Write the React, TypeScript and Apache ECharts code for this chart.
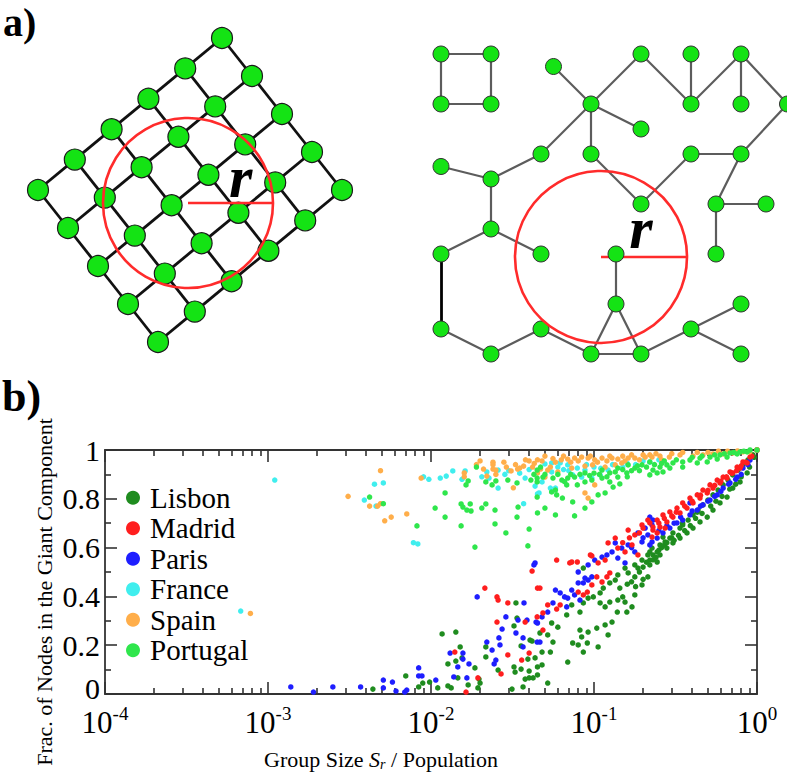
import React, { useEffect, useRef } from 'react';
import * as echarts from 'echarts';

const SERIF = 'Liberation Serif';

// ---------------- panel (b) data ----------------
const seriesNames = ['Lisbon', 'Madrid', 'Paris', 'France', 'Spain', 'Portugal'];
const seriesColors: Record<string, string> = {
  Lisbon: '#1f8c1f',
  Madrid: '#ff1e1e',
  Paris: '#1e1eff',
  France: '#40eeee',
  Spain: '#ffae4a',
  Portugal: '#2fe64c',
};

const lisbon: number[][] = [
  [0.0044, 0.02], [0.0117, 0.246], [0.0142, 0.254], [0.0332, 0.373], [0.0337, 0.311], [0.0323, 0.279],
  [0.0151, 0.193], [0.0142, 0.135], [0.0127, 0.123], [0.0155, 0.148], [0.0186, 0.107], [0.0146, 0.066],
  [0.0127, 0.033], [0.0133, 0.025], [0.011, 0.025], [0.0089, 0.045], [0.0084, 0.029], [0.007, 0.074],
  [0.0098, 0.049], [0.0169, 0.037], [0.0197, 0.061], [0.02, 0.045], [0.0194, 0.025], [0.0217, 0.193],
  [0.0217, 0.152], [0.0357, 0.197], [0.0405, 0.221], [0.0417, 0.217], [0.0393, 0.143], [0.0323, 0.111],
  [0.0328, 0.09], [0.0357, 0.102], [0.04, 0.094], [0.0378, 0.061], [0.04, 0.066], [0.0423, 0.066],
  [0.0367, 0.029], [0.045, 0.078], [0.0258, 0.098], [0.0314, 0.02], [0.045, 0.111], [0.0435, 0.148],
  [0.155, 0.516], [0.178, 0.529], [0.197, 0.549], [0.214, 0.57], [0.227, 0.598], [0.186, 0.516], [0.086, 0.516],
  [0.055, 0.291], [0.06, 0.274], [0.068, 0.324], [0.073, 0.365], [0.082, 0.336], [0.086, 0.373], [0.092, 0.393],
  [0.099, 0.398], [0.109, 0.414], [0.109, 0.373], [0.117, 0.357], [0.114, 0.434], [0.125, 0.455], [0.135, 0.467],
  [0.144, 0.434], [0.15, 0.398], [0.155, 0.377], [0.139, 0.336], [0.129, 0.295], [0.117, 0.283], [0.104, 0.27],
  [0.092, 0.254], [0.082, 0.262], [0.084, 0.234], [0.074, 0.209], [0.08, 0.201], [0.086, 0.172], [0.091, 0.209],
  [0.106, 0.193], [0.122, 0.242], [0.171, 0.357], [0.178, 0.406], [0.159, 0.336], [0.178, 0.48], [0.197, 0.447],
  [0.214, 0.48], [0.162, 0.496], [0.14, 0.488], [0.048, 0.172], [0.054, 0.172], [0.069, 0.131], [0.048, 0.119],
  [0.052, 0.045], [0.056, 0.213], [0.052, 0.242], [0.0466, 0.25], [0.125, 0.377], [0.14, 0.385],
  [0.22, 0.549], [0.23, 0.57], [0.244, 0.582], [0.22, 0.582], [0.254, 0.611], [0.273, 0.623], [0.292, 0.639],
  [0.305, 0.66], [0.337, 0.68], [0.35, 0.693], [0.378, 0.713], [0.405, 0.734], [0.435, 0.754], [0.466, 0.775],
  [0.5, 0.795], [0.537, 0.816], [0.577, 0.836], [0.62, 0.857], [0.664, 0.877], [0.71, 0.898], [0.765, 0.918],
  [0.82, 0.939], [0.88, 0.959], [0.945, 0.98], [0.254, 0.57], [0.28, 0.598], [0.305, 0.619], [0.337, 0.639],
  [0.372, 0.66], [0.405, 0.68], [0.447, 0.705], [0.495, 0.725], [0.537, 0.754], [0.593, 0.783], [0.655, 0.807],
  [0.71, 0.844], [0.787, 0.869], [0.87, 0.906], [0.265, 0.643], [0.244, 0.541], [0.22, 0.529],
  [0.2, 0.52], [0.21, 0.54], [0.23, 0.55], [0.25, 0.59], [0.26, 0.6], [0.27, 0.61], [0.19, 0.5], [0.24, 0.56],
  [0.28, 0.62], [0.3, 0.64], [0.17, 0.46], [0.18, 0.44], [0.16, 0.45], [0.2, 0.47],
  [0.31, 0.63], [0.33, 0.65], [0.36, 0.67], [0.39, 0.69], [0.42, 0.72], [0.46, 0.74], [0.52, 0.77], [0.56, 0.79],
  [0.61, 0.81], [0.68, 0.84], [0.74, 0.86], [0.8, 0.89], [0.9, 0.93], [0.96, 0.97], [0.35, 0.7], [0.43, 0.745],
  [1, 1],
];

const madrid: number[][] = [
  [0.0417, 0.504], [0.0214, 0.434], [0.0254, 0.398], [0.0258, 0.385], [0.0296, 0.373], [0.0254, 0.295],
  [0.0378, 0.295], [0.04, 0.168], [0.0296, 0.16], [0.036, 0.139], [0.0269, 0.082], [0.014, 0.172],
  [0.0194, 0.066], [0.0164, 0.008], [0.045, 0.434], [0.0448, 0.316],
  [0.059, 0.549], [0.073, 0.541], [0.079, 0.541], [0.097, 0.566], [0.122, 0.619], [0.135, 0.639], [0.162, 0.672],
  [0.178, 0.652], [0.197, 0.693], [0.214, 0.713], [0.23, 0.684], [0.14, 0.598], [0.171, 0.611], [0.155, 0.582],
  [0.186, 0.57], [0.106, 0.537], [0.117, 0.549], [0.095, 0.57], [0.071, 0.537],
  [0.0466, 0.434], [0.052, 0.365], [0.0486, 0.332], [0.062, 0.365], [0.059, 0.348], [0.086, 0.406], [0.091, 0.418],
  [0.097, 0.447], [0.104, 0.48], [0.112, 0.459], [0.12, 0.48], [0.125, 0.496], [0.0486, 0.262], [0.08, 0.418],
  [0.22, 0.701], [0.244, 0.713], [0.265, 0.734], [0.292, 0.746], [0.323, 0.762], [0.35, 0.783], [0.388, 0.803],
  [0.43, 0.816], [0.466, 0.836], [0.515, 0.857], [0.57, 0.877], [0.62, 0.889], [0.683, 0.91], [0.755, 0.93],
  [0.82, 0.951], [0.906, 0.971], [0.23, 0.672], [0.254, 0.684], [0.28, 0.705], [0.305, 0.725], [0.337, 0.742],
  [0.372, 0.762], [0.405, 0.783], [0.447, 0.803], [0.495, 0.824], [0.537, 0.844], [0.593, 0.865], [0.655, 0.885],
  [0.71, 0.906], [0.787, 0.926], [0.87, 0.947], [0.244, 0.66], [0.273, 0.68], [0.227, 0.643],
  [0.25, 0.7], [0.27, 0.72], [0.3, 0.73], [0.32, 0.745], [0.36, 0.77], [0.4, 0.79], [0.45, 0.815], [0.5, 0.835],
  [0.55, 0.855], [0.6, 0.872], [0.65, 0.89], [0.7, 0.905], [0.75, 0.915], [0.8, 0.935], [0.85, 0.95], [0.93, 0.975],
  [0.19, 0.66], [0.2, 0.68], [0.165, 0.64], [0.15, 0.62], [1, 1],
];

const paris: number[][] = [
  [0.00138, 0.029], [0.0019, 0.008], [0.0025, 0.029], [0.0037, 0.029], [0.0051, 0.057], [0.0051, 0.025],
  [0.0058, 0.049], [0.0061, 0.012], [0.0071, 0.016], [0.0069, 0.008],
  [0.0192, 0.398], [0.0372, 0.373], [0.0288, 0.316], [0.0342, 0.303], [0.0388, 0.303], [0.0441, 0.295],
  [0.0273, 0.266], [0.0332, 0.25], [0.0367, 0.23], [0.022, 0.213], [0.0261, 0.23], [0.0265, 0.201],
  [0.0237, 0.18], [0.0448, 0.213], [0.0131, 0.168], [0.0157, 0.168], [0.0157, 0.143], [0.0146, 0.111],
  [0.0171, 0.123], [0.025, 0.139], [0.0244, 0.123], [0.0084, 0.107], [0.0084, 0.074], [0.0088, 0.074],
  [0.0107, 0.057], [0.0138, 0.07], [0.0166, 0.066], [0.0367, 0.193], [0.0428, 0.529],
  [0.135, 0.619], [0.148, 0.598], [0.162, 0.611], [0.129, 0.582], [0.112, 0.561], [0.14, 0.557], [0.178, 0.582],
  [0.197, 0.623], [0.214, 0.652], [0.227, 0.693], [0.206, 0.68], [0.186, 0.66], [0.092, 0.529], [0.101, 0.549],
  [0.0435, 0.537], [0.155, 0.537],
  [0.048, 0.316], [0.052, 0.336], [0.056, 0.373], [0.058, 0.426], [0.062, 0.414], [0.066, 0.398], [0.068, 0.357],
  [0.073, 0.426], [0.076, 0.406], [0.08, 0.455], [0.086, 0.455], [0.088, 0.475], [0.092, 0.467], [0.082, 0.385],
  [0.0466, 0.213], [0.045, 0.291], [0.097, 0.48], [0.08, 0.5], [0.069, 0.393],
  [0.22, 0.725], [0.23, 0.713], [0.227, 0.623], [0.244, 0.639], [0.265, 0.66], [0.292, 0.68], [0.323, 0.701],
  [0.35, 0.713], [0.388, 0.734], [0.43, 0.754], [0.466, 0.775], [0.388, 0.783], [0.515, 0.795], [0.57, 0.816],
  [0.62, 0.844], [0.683, 0.865], [0.755, 0.889], [0.82, 0.926], [0.906, 0.959], [0.22, 0.611],
  [0.25, 0.67], [0.28, 0.69], [0.31, 0.7], [0.34, 0.725], [0.4, 0.75], [0.45, 0.77], [0.5, 0.79], [0.55, 0.81],
  [0.6, 0.83], [0.67, 0.86], [0.74, 0.88], [0.8, 0.9], [0.88, 0.94], [0.17, 0.6], [0.12, 0.57], [0.2, 0.64],
];

const france: number[][] = [
  [0.0011, 0.877], [0.0039, 0.795], [0.0046, 0.77], [0.0045, 0.86], [0.0051, 0.865], [0.00068, 0.34],
  [0.009, 0.89], [0.0097, 0.88], [0.0114, 0.885], [0.0124, 0.893], [0.0136, 0.914], [0.0162, 0.914],
  [0.0155, 0.88], [0.022, 0.91], [0.0205, 0.89], [0.0227, 0.885], [0.0258, 0.918], [0.0258, 0.844],
  [0.0284, 0.9], [0.0378, 0.885], [0.0435, 0.852], [0.0078, 0.62], [0.0083, 0.615], [0.037, 0.78], [0.045, 0.82],
  [0.05, 0.943], [0.055, 0.947], [0.062, 0.947], [0.069, 0.939], [0.079, 0.926], [0.088, 0.918], [0.074, 0.898],
  [0.084, 0.889], [0.055, 0.91], [0.048, 0.869], [0.054, 0.844], [0.046, 0.824], [0.058, 0.844], [0.097, 0.885],
  [0.109, 0.898], [0.122, 0.918], [0.18, 0.94], [0.22, 0.95], [0.15, 0.93],
  [0.06, 0.93], [0.065, 0.92], [0.07, 0.915], [0.09, 0.94], [0.1, 0.93], [0.11, 0.925], [0.13, 0.94],
  [0.16, 0.945], [0.2, 0.955], [0.25, 0.96], [0.03, 0.915], [0.035, 0.905], [0.04, 0.92],
];

const spain: number[][] = [
  [0.00078, 0.33], [0.0031, 0.81], [0.0042, 0.77], [0.0047, 0.77], [0.0052, 0.71], [0.0057, 0.725],
  [0.0049, 0.915], [0.0049, 0.78],
  [0.02, 0.955], [0.024, 0.95], [0.024, 0.94], [0.024, 0.922], [0.025, 0.918], [0.021, 0.922], [0.016, 0.906],
  [0.016, 0.89], [0.029, 0.93], [0.031, 0.914], [0.034, 0.922], [0.035, 0.926], [0.037, 0.934], [0.04, 0.955],
  [0.042, 0.93], [0.032, 0.845], [0.0087, 0.885], [0.0071, 0.738], [0.022, 0.893], [0.025, 0.9],
  [0.048, 0.955], [0.047, 0.922], [0.054, 0.93], [0.058, 0.95], [0.063, 0.96], [0.069, 0.963], [0.076, 0.967],
  [0.084, 0.971], [0.092, 0.967], [0.101, 0.96], [0.112, 0.967], [0.129, 0.967], [0.14, 0.963], [0.162, 0.967],
  [0.178, 0.967], [0.206, 0.971], [0.227, 0.971], [0.052, 0.918], [0.06, 0.91], [0.073, 0.926], [0.088, 0.934],
  [0.098, 0.939], [0.117, 0.93], [0.135, 0.939], [0.148, 0.947], [0.101, 0.857], [0.088, 0.824], [0.092, 0.803],
  [0.05, 0.889], [0.045, 0.906],
  [0.22, 0.98], [0.254, 0.975], [0.29, 0.971], [0.337, 0.98], [0.405, 0.975], [0.466, 0.98], [0.537, 0.984],
  [0.62, 0.984], [0.71, 0.988], [0.82, 0.992], [0.9, 0.992],
  [0.045, 0.96], [0.05, 0.975], [0.056, 0.965], [0.065, 0.975], [0.072, 0.95], [0.08, 0.955], [0.095, 0.975],
  [0.105, 0.95], [0.12, 0.955], [0.125, 0.975], [0.15, 0.975], [0.155, 0.955], [0.17, 0.98], [0.19, 0.96],
  [0.2, 0.98], [0.24, 0.985], [0.26, 0.96], [0.3, 0.985], [0.35, 0.99], [0.43, 0.99], [0.5, 0.99], [0.58, 0.995],
  [0.66, 0.995], [0.76, 0.996], [0.028, 0.95], [0.033, 0.94], [0.038, 0.96], [0.043, 0.945], [0.019, 0.94],
  [1, 1],
];

const portugal: number[][] = [
  [0.0042, 0.807], [0.0051, 0.78],
  [0.019, 0.93], [0.0169, 0.873], [0.0164, 0.857], [0.0217, 0.869], [0.0237, 0.857], [0.025, 0.873],
  [0.0296, 0.877], [0.0337, 0.865], [0.0428, 0.9], [0.0448, 0.869], [0.041, 0.877], [0.0122, 0.824],
  [0.0106, 0.762], [0.0153, 0.779], [0.0157, 0.766], [0.0166, 0.754], [0.0176, 0.75], [0.0174, 0.779],
  [0.0205, 0.762], [0.0217, 0.779], [0.0247, 0.754], [0.0342, 0.766], [0.0122, 0.725], [0.0082, 0.689],
  [0.0153, 0.689], [0.0247, 0.697], [0.0288, 0.66], [0.04, 0.676], [0.0337, 0.725], [0.0186, 0.602],
  [0.0393, 0.607], [0.045, 0.742], [0.0448, 0.807],
  [0.0448, 0.885], [0.0486, 0.889], [0.056, 0.885], [0.0635, 0.877], [0.069, 0.885], [0.076, 0.889], [0.088, 0.869],
  [0.097, 0.877], [0.112, 0.885], [0.125, 0.869], [0.14, 0.889], [0.159, 0.906], [0.178, 0.926], [0.197, 0.939],
  [0.22, 0.951], [0.14, 0.926], [0.162, 0.939], [0.112, 0.918], [0.125, 0.906], [0.088, 0.906], [0.079, 0.857],
  [0.068, 0.857], [0.058, 0.836], [0.055, 0.828], [0.059, 0.816], [0.064, 0.803], [0.074, 0.787], [0.088, 0.762],
  [0.097, 0.787], [0.106, 0.816], [0.117, 0.824], [0.131, 0.848], [0.144, 0.861], [0.05, 0.762], [0.058, 0.734],
  [0.076, 0.73], [0.0448, 0.918], [0.047, 0.93],
  [0.23, 0.918], [0.254, 0.93], [0.28, 0.939], [0.305, 0.947], [0.35, 0.951], [0.388, 0.959], [0.447, 0.967],
  [0.515, 0.971], [0.593, 0.98], [0.683, 0.988], [0.787, 0.992], [0.906, 1.0], [0.22, 0.898], [0.265, 0.91],
  [0.35, 0.93], [0.43, 0.947], [0.495, 0.951], [0.57, 0.963], [0.655, 0.971], [0.755, 0.984], [0.87, 0.992],
  [0.244, 0.906], [0.292, 0.926],
  [0.05, 0.9], [0.06, 0.9], [0.066, 0.87], [0.072, 0.9], [0.082, 0.9], [0.094, 0.895], [0.1, 0.905], [0.108, 0.9],
  [0.12, 0.89], [0.135, 0.91], [0.15, 0.92], [0.17, 0.915], [0.185, 0.935], [0.21, 0.93], [0.235, 0.94],
  [0.26, 0.945], [0.32, 0.96], [0.4, 0.97], [0.46, 0.975], [0.55, 0.98], [0.63, 0.985], [0.72, 0.99], [0.83, 0.995],
  [0.27, 0.955], [0.19, 0.915], [0.16, 0.89], [1, 1],
];

const seriesData: Record<string, number[][]> = {
  Lisbon: lisbon, Madrid: madrid, Paris: paris, France: france, Spain: spain, Portugal: portugal,
};
const drawOrder = ['Lisbon', 'Paris', 'Madrid', 'France', 'Spain', 'Portugal'];

// axis ticks
const xDecades = [1e-4, 1e-3, 1e-2, 1e-1, 1];
const minorMantissas = [2, 3, 4, 5, 6, 7, 8, 9];
const xMinorTicks = xDecades.slice(0, -1).flatMap((d) => minorMantissas.map((m) => +(m * d).toPrecision(3)));
const yTickInterval = 0.2;

// ---------------- panel (a) data ----------------
const LATTICE_ROWS = 6;
const LATTICE_COLS = 5;
const latticeOrigin = [222, 38];
const latticeStepRow = [-36.8, 30.4];
const latticeStepCol = [30, 38];
const latticeCircle = [188, 203, 85, 0.62, -0.31];

const netNodes: [string, number, number][] = [
  ['A', 0, 0], ['B', 1, 0], ['C', 0, 1], ['D', 1, 1],
  ['E', 2.25, 0.25], ['F', 3, 1], ['G', 4, 0], ['H', 5, 0], ['I', 6, 0], ['J', 5, 1], ['K', 6, 1], ['L', 6.93, 1],
  ['M', 4, 1.5], ['N', 3, 2], ['O', 2, 2], ['P', 0, 2.25], ['Q', 1, 2.5],
  ['R', 4, 3], ['S', 5, 2], ['T', 6, 2], ['U', 5.5, 3], ['V', 6.5, 3], ['W', 5.5, 4],
  ['X', 1, 3.5], ['Y', 0, 4], ['Z', 2, 4], ['AA', 3.5, 4], ['AB', 3.5, 5],
  ['AC', 0, 5.5], ['AD', 1, 6], ['AE', 2, 5.5], ['AF', 3, 6], ['AG', 4, 6], ['AH', 5, 5.5], ['AI', 6, 5], ['AJ', 6, 6],
];
const netEdges: [string, string][] = [
  ['A', 'B'], ['B', 'D'], ['D', 'C'], ['C', 'A'], ['E', 'F'], ['F', 'G'], ['G', 'J'], ['J', 'H'], ['J', 'I'],
  ['I', 'K'], ['I', 'L'], ['L', 'T'], ['F', 'M'], ['F', 'N'], ['F', 'O'], ['O', 'Q'], ['Q', 'P'], ['Q', 'X'],
  ['X', 'Y'], ['X', 'Z'], ['AC', 'AD'], ['AD', 'AE'], ['AE', 'AF'], ['AF', 'AG'], ['AF', 'AB'],
  ['AG', 'AB'], ['AB', 'AA'], ['AG', 'AH'], ['AH', 'AI'], ['AH', 'AJ'], ['N', 'R'], ['R', 'S'], ['S', 'T'],
  ['T', 'U'], ['U', 'V'], ['U', 'W'],
];
const netBlackEdges: [string, string][] = [['Y', 'AC']];
const netCircle = [3.2, 4.06, 1.72, 0.465, -0.34];

const NODE_GREEN = '#14e314';
const RED = '#ff2b2b';

function buildLattice() {
  const nodes: any[] = [];
  const links: any[] = [];
  for (let i = 0; i < LATTICE_ROWS; i++) {
    for (let j = 0; j < LATTICE_COLS; j++) {
      nodes.push({
        name: `n${i}_${j}`,
        value: [
          latticeOrigin[0] + i * latticeStepRow[0] + j * latticeStepCol[0],
          latticeOrigin[1] + i * latticeStepRow[1] + j * latticeStepCol[1],
        ],
      });
      if (i + 1 < LATTICE_ROWS) links.push({ source: `n${i}_${j}`, target: `n${i + 1}_${j}` });
      if (j + 1 < LATTICE_COLS) links.push({ source: `n${i}_${j}`, target: `n${i}_${j + 1}` });
    }
  }
  return { nodes, links };
}

function circleItem(params: any, api: any) {
  const c = api.coord([api.value(0), api.value(1)]);
  const rr = api.size([api.value(2), api.value(2)])[0];
  return {
    type: 'group',
    children: [
      { type: 'circle', shape: { cx: c[0], cy: c[1], r: rr }, style: { fill: 'none', stroke: RED, lineWidth: 2.6 } },
      {
        type: 'text',
        x: c[0] + api.value(3) * rr,
        y: c[1] + api.value(4) * rr,
        style: {
          text: 'r', fontFamily: SERIF, fontSize: 60, fontStyle: 'italic', fontWeight: 'bold',
          fill: '#000', align: 'center', verticalAlign: 'middle',
        },
      },
    ],
  };
}

function radiusItem(params: any, api: any) {
  const c = api.coord([api.value(0), api.value(1)]);
  const rr = api.size([api.value(2), api.value(2)])[0];
  return {
    type: 'line',
    shape: { x1: c[0], y1: c[1], x2: c[0] + rr, y2: c[1] },
    style: { stroke: RED, lineWidth: 2.6 },
  };
}

export default function App() {
  const ref = useRef<HTMLDivElement>(null);

  useEffect(() => {
    if (!ref.current) return;
    const chart = echarts.init(ref.current, undefined, { renderer: 'svg' });
    const lattice = buildLattice();

    const axisLineStyle = { color: '#333', width: 1.8 };
    const tickStyle = { color: '#333', width: 1.6 };

    const option: any = {
      animation: false,
      backgroundColor: '#fff',
      textStyle: { fontFamily: SERIF },
      grid: [
        { left: 105, right: 30, top: 450, bottom: 82, containLabel: false, outerBoundsMode: 'none' },
        { left: 105, right: 30, top: 450, bottom: 82, containLabel: false, outerBoundsMode: 'none' },
        { left: 0, top: 0, width: 390, height: 360, containLabel: false, outerBoundsMode: 'none' },
        { left: 441, top: 54, width: 350, height: 300, containLabel: false, outerBoundsMode: 'none' },
      ],
      xAxis: [
        {
          gridIndex: 0, type: 'log', logBase: 10, min: 1e-4, max: 1, position: 'bottom',
          axisLine: { show: true, onZero: false, lineStyle: axisLineStyle },
          axisTick: { show: true, inside: true, length: 12, lineStyle: tickStyle, customValues: xDecades },
          axisLabel: {
            show: true, margin: 10, customValues: xDecades, fontFamily: SERIF,
            formatter: (v: number) => `{b|10}{s|${Math.round(Math.log10(v))}}`,
            rich: {
              b: { fontSize: 31, fontFamily: SERIF, color: '#000', lineHeight: 36 },
              s: { fontSize: 19, fontFamily: SERIF, color: '#000', verticalAlign: 'top', lineHeight: 14 },
            },
          },
          splitLine: { show: false },
        },
        {
          gridIndex: 0, type: 'log', logBase: 10, min: 1e-4, max: 1, position: 'top',
          axisLine: { show: true, onZero: false, lineStyle: axisLineStyle },
          axisTick: { show: true, inside: true, length: 12, lineStyle: tickStyle, customValues: xDecades },
          axisLabel: { show: false },
          splitLine: { show: false },
        },
        {
          gridIndex: 1, type: 'log', logBase: 10, min: 1e-4, max: 1, position: 'bottom',
          axisLine: { show: false, onZero: false },
          axisTick: { show: true, inside: true, length: 6, lineStyle: tickStyle, customValues: xMinorTicks },
          axisLabel: { show: false },
          splitLine: { show: false },
        },
        {
          gridIndex: 1, type: 'log', logBase: 10, min: 1e-4, max: 1, position: 'top',
          axisLine: { show: false, onZero: false },
          axisTick: { show: true, inside: true, length: 6, lineStyle: tickStyle, customValues: xMinorTicks },
          axisLabel: { show: false },
          splitLine: { show: false },
        },
        { gridIndex: 2, type: 'value', min: 0, max: 390, show: false },
        { gridIndex: 3, type: 'value', min: 0, max: 7, show: false },
      ],
      yAxis: [
        {
          gridIndex: 0, type: 'value', min: 0, max: 1, interval: yTickInterval, position: 'left',
          axisLine: { show: true, onZero: false, lineStyle: axisLineStyle },
          axisTick: { show: true, inside: true, length: 12, lineStyle: tickStyle },
          minorTick: { show: true, splitNumber: 2, length: 6, lineStyle: tickStyle },
          axisLabel: {
            show: true, fontSize: 30, fontFamily: SERIF, color: '#000', margin: 5, lineHeight: 20,
            formatter: (v: number) => (v === 0 ? '{z|0}' : `${v}`),
            rich: {
              z: { fontSize: 30, fontFamily: SERIF, color: '#000', lineHeight: 20, padding: [0, 0, 12, 0] },
            },
          },
          splitLine: { show: false },
          minorSplitLine: { show: false },
        },
        {
          gridIndex: 0, type: 'value', min: 0, max: 1, interval: yTickInterval, position: 'right',
          axisLine: { show: true, onZero: false, lineStyle: axisLineStyle },
          axisTick: { show: true, inside: true, length: 12, lineStyle: tickStyle },
          minorTick: { show: true, splitNumber: 2, length: 6, lineStyle: tickStyle },
          axisLabel: { show: false },
          splitLine: { show: false },
        },
        { gridIndex: 1, type: 'value', min: 0, max: 1, show: false },
        { gridIndex: 2, type: 'value', min: 0, max: 360, inverse: true, show: false },
        { gridIndex: 3, type: 'value', min: 0, max: 6, inverse: true, show: false },
      ],
      legend: {
        show: true,
        data: seriesNames,
        orient: 'vertical',
        left: 126,
        top: 483,
        padding: 0,
        itemWidth: 24,
        itemHeight: 14,
        itemGap: 1,
        icon: 'circle',
        selectedMode: false,
        textStyle: { fontFamily: SERIF, fontSize: 29, color: '#000', lineHeight: 29.5 },
      },
      series: [
        ...drawOrder.map((name) => ({
          name,
          type: 'scatter',
          xAxisIndex: 0,
          yAxisIndex: 0,
          symbol: 'circle',
          symbolSize: 5.5,
          data: seriesData[name],
          itemStyle: { color: seriesColors[name], opacity: 1 },
          emphasis: { disabled: true },
          z: 3,
        })),
        {
          type: 'graph',
          coordinateSystem: 'cartesian2d',
          xAxisIndex: 4,
          yAxisIndex: 3,
          symbol: 'circle',
          symbolSize: 21,
          data: lattice.nodes,
          links: lattice.links,
          lineStyle: { color: '#111', width: 2.8, opacity: 1, curveness: 0 },
          itemStyle: { color: NODE_GREEN, borderColor: '#1a1a1a', borderWidth: 1.2 },
          label: { show: false },
          emphasis: { disabled: true },
          z: 2,
        },
        {
          type: 'graph',
          coordinateSystem: 'cartesian2d',
          xAxisIndex: 5,
          yAxisIndex: 4,
          symbol: 'circle',
          symbolSize: 16,
          data: netNodes.map(([name, x, y]) => ({ name, value: [x, y] })),
          links: [
            ...netEdges.map(([s, t]) => ({ source: s, target: t })),
            ...netBlackEdges.map(([s, t]) => ({ source: s, target: t, lineStyle: { color: '#000', width: 2.8 } })),
          ],
          lineStyle: { color: '#5c5c5c', width: 2.2, opacity: 1, curveness: 0 },
          itemStyle: { color: NODE_GREEN, borderColor: '#333', borderWidth: 1 },
          label: { show: false },
          emphasis: { disabled: true },
          z: 2,
        },
        {
          type: 'custom', xAxisIndex: 4, yAxisIndex: 3, data: [latticeCircle],
          renderItem: radiusItem, z: 5, silent: true,
        },
        {
          type: 'custom', xAxisIndex: 4, yAxisIndex: 3, data: [latticeCircle],
          renderItem: circleItem, z: 5, silent: true,
        },
        {
          type: 'custom', xAxisIndex: 5, yAxisIndex: 4, data: [netCircle],
          renderItem: radiusItem, z: 1, silent: true,
        },
        {
          type: 'custom', xAxisIndex: 5, yAxisIndex: 4, data: [netCircle],
          renderItem: circleItem, z: 5, silent: true,
        },
      ],
      graphic: [
        {
          type: 'text', x: 3, y: 22,
          style: { text: 'a)', fontFamily: SERIF, fontSize: 40, fontWeight: 'bold', fill: '#000', align: 'left', verticalAlign: 'middle' },
        },
        {
          type: 'text', x: 2, y: 396,
          style: { text: 'b)', fontFamily: SERIF, fontSize: 44, fontWeight: 'bold', fill: '#000', align: 'left', verticalAlign: 'middle' },
        },
        {
          type: 'text', x: 44.5, y: 592, rotation: Math.PI / 2,
          style: {
            text: 'Frac. of Nodes in the Giant Component', fontFamily: SERIF, fontSize: 22,
            fill: '#000', align: 'center', verticalAlign: 'middle',
          },
        },
        {
          type: 'text', x: 381, y: 759,
          style: {
            text: '{n|Group Size }{i|S}{sub|r}{n| / Population}',
            fontFamily: SERIF, fontSize: 22, fill: '#000', align: 'center', verticalAlign: 'middle',
            rich: {
              n: { fontFamily: SERIF, fontSize: 22, fill: '#000', lineHeight: 24 },
              i: { fontFamily: SERIF, fontSize: 22, fontStyle: 'italic', fill: '#000', lineHeight: 24 },
              sub: { fontFamily: SERIF, fontSize: 14, fontStyle: 'italic', fill: '#000', lineHeight: 14, verticalAlign: 'bottom' },
            },
          },
        },
      ],
    };

    chart.setOption(option);
    return () => chart.dispose();
  }, []);

  return (
    <div
      ref={ref}
      style={{ position: 'fixed', left: 0, top: 0, width: 787, height: 776, background: '#fff' }}
    />
  );
}
